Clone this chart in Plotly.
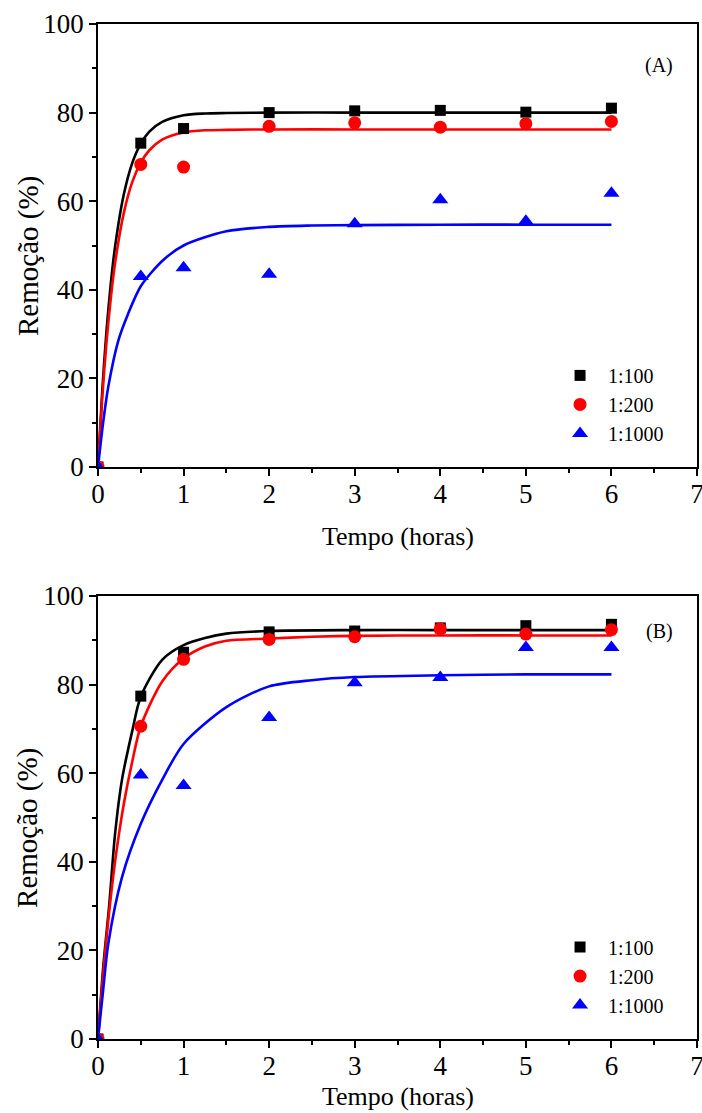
import plotly.graph_objects as go
from plotly.subplots import make_subplots

# measured points
t_pts = [0, 0.5, 1, 2, 3, 4, 5, 6]
a_100 = [0, 73.1, 76.4, 80.0, 80.4, 80.5, 80.1, 81.0]
a_200 = [0, 68.3, 67.7, 76.9, 77.7, 76.7, 77.5, 78.0]
a_1000 = [0, 43.0, 45.0, 43.5, 54.9, 60.3, 55.5, 61.8]
b_100 = [0, 77.4, 87.3, 91.9, 92.1, 92.8, 93.3, 93.6]
b_200 = [0, 70.6, 85.7, 90.2, 90.8, 92.6, 91.4, 92.4]
b_1000 = [0, 59.6, 57.2, 72.6, 80.4, 81.6, 88.4, 88.4]

# fitted curves
fa_100_t = [0, 0.05, 0.1, 0.15, 0.2, 0.3, 0.4, 0.5, 0.6, 0.75, 1.0, 1.25, 1.5, 2, 3, 4, 5, 6]
fa_100_y = [0, 17.3, 30.9, 41.5, 49.8, 61.4, 68.6, 73.0, 75.7, 77.9, 79.4, 79.8, 79.9, 80.0, 80.0, 80.0, 80.0, 80.0]
fa_200_t = [0, 0.05, 0.1, 0.15, 0.2, 0.3, 0.4, 0.5, 0.6, 0.75, 1.0, 1.25, 1.5, 2, 3, 4, 5, 6]
fa_200_y = [0, 15.8, 28.3, 38.2, 46.1, 57.2, 64.3, 68.7, 71.5, 73.9, 75.5, 76.0, 76.1, 76.2, 76.2, 76.2, 76.2, 76.2]
fa_1000_t = [0, 0.06, 0.12, 0.24, 0.35, 0.5, 0.75, 1.0, 1.5, 2, 2.5, 3, 4, 5, 6]
fa_1000_y = [0, 10.0, 18.1, 28.7, 34.5, 40.8, 46.5, 50.0, 53.2, 54.2, 54.5, 54.6, 54.7, 54.7, 54.7]

fb_100_t = [0, 0.06, 0.13, 0.2, 0.28, 0.4, 0.5, 0.75, 1.0, 1.25, 1.5, 2, 3, 4, 5, 6]
fb_100_y = [0, 16.0, 30.0, 46.4, 58.5, 69.5, 77.3, 85.6, 88.9, 90.5, 91.5, 92.1, 92.3, 92.3, 92.3, 92.3]
fb_200_t = [0, 0.06, 0.13, 0.2, 0.3, 0.4, 0.5, 0.75, 1.0, 1.25, 1.5, 2, 2.5, 3, 4, 5, 6]
fb_200_y = [0, 14.6, 28.6, 40.1, 52.9, 62.6, 70.6, 80.7, 85.9, 88.6, 89.9, 90.4, 90.8, 91.0, 91.1, 91.1, 91.1]
fb_1000_t = [0, 0.06, 0.12, 0.28, 0.5, 0.75, 1.0, 1.5, 2, 2.5, 3, 4, 5, 6]
fb_1000_y = [0, 11.0, 21.5, 36.5, 48.6, 58.5, 66.6, 74.9, 79.6, 81.0, 81.7, 82.1, 82.3, 82.3]

labels = ["1:100", "1:200", "1:1000"]
colors = ["black", "red", "blue"]
symbols = ["square", "circle", "triangle-up"]
msizes = [11, 13, 14]
x_ticks = [0, 1, 2, 3, 4, 5, 6, 7]
y_ticks = [0, 20, 40, 60, 80, 100]

FONT = "Liberation Serif"

fig = make_subplots(rows=2, cols=1, vertical_spacing=0.1271)

panels = [
    (1, [a_100, a_200, a_1000], [(fa_100_t, fa_100_y), (fa_200_t, fa_200_y), (fa_1000_t, fa_1000_y)], "legend"),
    (2, [b_100, b_200, b_1000], [(fb_100_t, fb_100_y), (fb_200_t, fb_200_y), (fb_1000_t, fb_1000_y)], "legend2"),
]
for row, pts, fits, leg in panels:
    for i in range(3):
        ft, fy = fits[i]
        fig.add_trace(go.Scatter(x=ft, y=fy, mode="lines", line=dict(color=colors[i], width=2.6, shape="spline", smoothing=0.8),
                                 showlegend=False, hoverinfo="skip"), row=row, col=1)
    for i in range(3):
        fig.add_trace(go.Scatter(x=t_pts, y=pts[i], mode="markers", name=labels[i], legend=leg,
                                 marker=dict(symbol=symbols[i], color=colors[i], size=msizes[i], line=dict(width=0))),
                      row=row, col=1)

axis_common = dict(showline=True, linecolor="black", linewidth=1.5, mirror=True, showgrid=False, zeroline=False,
                   ticks="outside", ticklen=7, tickwidth=1.5, tickcolor="black", automargin=False,
                   ticklabeloverflow="allow",
                   tickfont=dict(family=FONT, size=27, color="black"))
for row in (1, 2):
    fig.update_xaxes(range=[0, 7], tickvals=x_ticks, ticklabelstandoff=-5,
                     minor=dict(dtick=0.5, tick0=0, ticks="outside", ticklen=4, tickwidth=1.5, tickcolor="black"),
                     row=row, col=1, **axis_common)
    fig.update_yaxes(range=[0, 100], tickvals=y_ticks,
                     minor=dict(dtick=10, tick0=0, ticks="outside", ticklen=4, tickwidth=1.5, tickcolor="black"),
                     row=row, col=1, **axis_common)

title_font = dict(family=FONT, size=26, color="black")
ytitle_font = dict(family=FONT, size=29, color="black")
ann = [
    dict(text="(A)", x=6.556, y=90.7, xref="x", yref="y", showarrow=False, font=dict(family=FONT, size=20, color="black")),
    dict(text="(B)", x=6.556, y=91.9, xref="x2", yref="y2", showarrow=False, font=dict(family=FONT, size=20, color="black")),
    dict(text="Tempo (horas)", x=0.5, y=0.4946, xref="paper", yref="paper", xanchor="center", yanchor="middle",
         showarrow=False, font=title_font),
    dict(text="Tempo (horas)", x=0.5, y=-0.0571, xref="paper", yref="paper", xanchor="center", yanchor="middle",
         showarrow=False, font=title_font),
    dict(text="Remoção (%)", x=-0.1169, y=0.7714, xref="paper", yref="paper", xanchor="center", yanchor="middle",
         showarrow=False, textangle=-90, font=ytitle_font),
    dict(text="Remoção (%)", x=-0.1169, y=0.2079, xref="paper", yref="paper", xanchor="center", yanchor="middle",
         showarrow=False, textangle=-90, font=ytitle_font),
]

fig.update_layout(
    width=702, height=1113,
    margin=dict(l=98, r=5, t=24, b=74),
    paper_bgcolor="white", plot_bgcolor="white",
    font=dict(family=FONT, color="black"),
    legend=dict(x=0.758, y=0.673, xanchor="left", yanchor="top", bgcolor="rgba(0,0,0,0)", itemwidth=46,
                font=dict(family=FONT, size=20, color="black")),
    legend2=dict(x=0.758, y=0.1098, xanchor="left", yanchor="top", bgcolor="rgba(0,0,0,0)", itemwidth=46,
                 font=dict(family=FONT, size=20, color="black")),
    annotations=ann,
)

# remove the default 8px page margin so the figure fills the window exactly
fig.write_html("out.html", config={"displayModeBar": False},
               post_script="document.body.style.margin='0';document.body.style.overflow='hidden';")
